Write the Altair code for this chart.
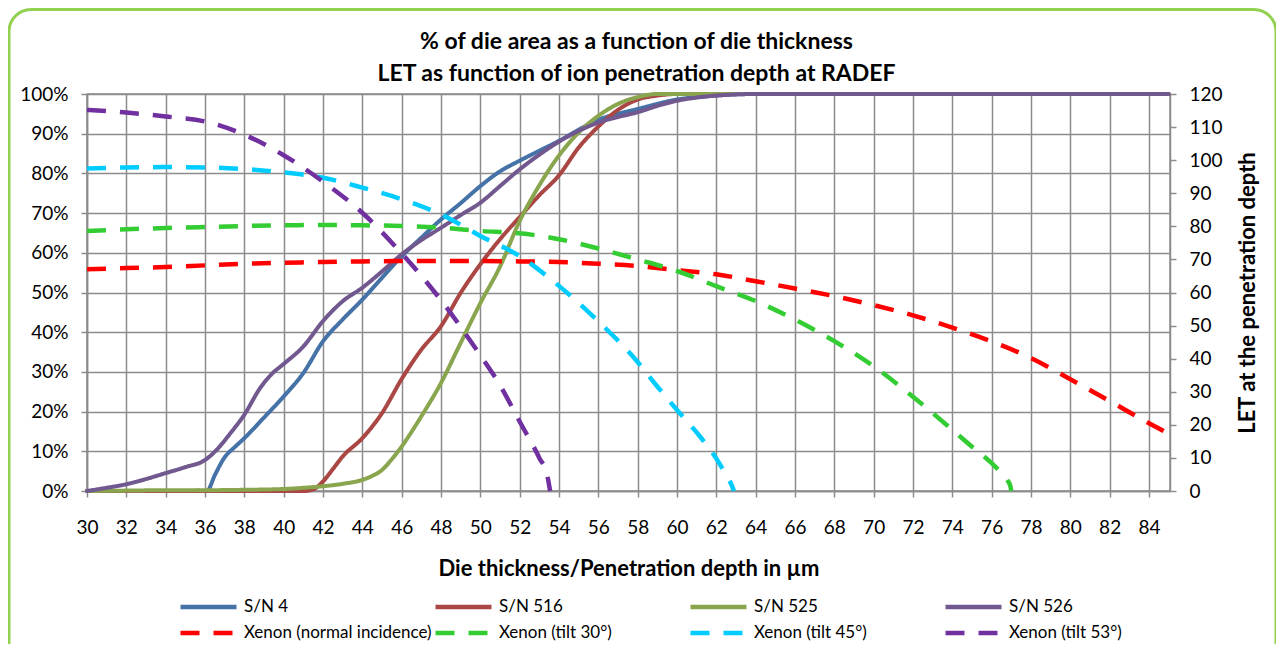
import altair as alt
import pandas as pd

FONT = "Lato"

# ---------------- data ----------------
series_names = ["S/N 4", "S/N 516", "S/N 525", "S/N 526",
                "Xenon (normal incidence)", "Xenon (tilt 30°)",
                "Xenon (tilt 45°)", "Xenon (tilt 53°)"]
series_colors = ["#4572A7", "#AA4643", "#89A54E", "#71588F",
                 "#FF0000", "#33CC33", "#00CCFF", "#7030A0"]

# % of die area (left axis)
sn4_x = [30, 32, 34, 36, 36.1, 36.5, 37, 37.5, 38, 39, 40, 41, 42, 43, 44, 45, 46, 47, 48, 49,
         50, 51, 52, 53, 54, 55, 56, 57, 58, 59, 60, 61, 62, 63, 64, 70, 85]
sn4_y = [0, 0, 0, 0, 0, 4, 8.5, 11, 13.3, 18.5, 23.8, 29.7, 37.7, 43.2, 48.2, 53.7, 59.1, 63.8, 68.4, 72.5,
         76.8, 80.5, 83.2, 85.7, 88.2, 91, 93.5, 95, 96.2, 97.5, 98.6, 99.2, 99.6, 99.9, 100, 100, 100]

sn516_x = [30, 34, 38, 41, 41.5, 42, 42.5, 43, 44, 45, 46, 47, 48, 49, 50, 51, 52, 53, 54, 55,
           56, 57, 58, 59, 60, 70, 85]
sn516_y = [0, 0, 0, 0, 0.4, 2.4, 5.5, 8.7, 13.3, 19.6, 28.2, 35.6, 41.5, 49.9, 57.1, 63.4, 69.0, 74.5, 79.5, 86.5,
           91.8, 96.0, 98.6, 99.6, 100, 100, 100]

sn525_x = [30, 32, 34, 36, 38, 40, 41, 42, 43, 44, 44.5, 45, 45.5, 46, 47, 48, 49, 50, 51, 52,
           53, 54, 55, 56, 57, 58, 59, 60, 70, 85]
sn525_y = [0, 0.1, 0.2, 0.2, 0.3, 0.5, 0.8, 1.2, 1.8, 2.8, 3.8, 5.3, 8.0, 11.2, 18.8, 27.2, 37.3, 47.3, 56.5, 68.0,
           77.0, 84.5, 90.3, 94.5, 97.5, 99.2, 100, 100, 100, 100]

sn526_x = [30, 31, 32, 33, 34, 35, 36, 36.6, 37.3, 38, 38.8, 39.4, 40, 41, 42, 43, 44, 45, 46, 47,
           48, 49, 50, 51, 52, 53, 54, 55, 56, 57, 58, 59, 60, 61, 62, 63, 64, 70, 85]
sn526_y = [0, 0.8, 1.7, 3.0, 4.5, 6.0, 7.8, 10.4, 14.6, 19.2, 25.9, 29.5, 32.0, 36.4, 42.8, 47.8, 51.2, 55.3, 59.6, 63.2,
           66.3, 69.5, 72.6, 76.8, 81.0, 84.7, 88.0, 90.7, 92.8, 94.2, 95.4, 97.0, 98.3, 99.1, 99.6, 99.9, 100, 100, 100]

# LET at the penetration depth (right axis)
xe0_x = [30, 32, 34, 36, 38, 40, 42, 44, 46, 48, 50, 52, 54, 56, 58, 60, 62, 64, 66, 68,
         70, 72, 74, 76, 78, 80, 82, 84, 85]
xe0_y = [67.0, 67.4, 67.7, 68.2, 68.7, 69.0, 69.2, 69.4, 69.5, 69.5, 69.5, 69.4, 69.2, 68.7, 68.0, 66.8, 65.5, 63.4, 61.2, 58.9,
         56.2, 53.1, 49.4, 45.2, 40.2, 33.8, 27.2, 20.5, 17.3]

xe30_x = [30, 32, 34, 36, 38, 40, 42, 44, 46, 48, 50, 52, 54, 56, 58, 60, 62, 64, 66, 68,
          70, 72, 74, 75, 76, 76.5, 76.8, 76.95, 77]
xe30_y = [78.6, 79.1, 79.5, 79.8, 80.1, 80.3, 80.4, 80.3, 80.1, 79.6, 78.6, 77.9, 76.1, 73.3, 70.0, 66.5, 61.9, 57.4, 51.8, 45.3,
          37.7, 28.5, 18.5, 13.4, 8.4, 5.4, 3.3, 1.5, 0]

xe45_x = [30, 32, 34, 36, 38, 40, 42, 44, 46, 48, 50, 52, 54, 56, 58, 59, 60, 61, 62, 62.5, 62.8, 62.9]
xe45_y = [97.5, 97.8, 97.9, 97.8, 97.3, 96.3, 94.7, 91.7, 88.2, 83.6, 77.1, 71.0, 62.0, 51.3, 39.0, 31.6, 24.5, 17.7, 9.8, 4.8, 1.5, 0]

xe53_x = [30, 32, 34, 36, 38, 40, 42, 44, 46, 48, 50, 51, 52, 53, 53.4, 53.55]
xe53_y = [115.2, 114.4, 113.2, 111.7, 107.7, 101.5, 93.5, 84.1, 71.8, 57.7, 41.0, 32.0, 21.0, 10.0, 4.8, 0]

x_ticks = list(range(30, 86, 2))
pct_ticks = list(range(0, 101, 10))
let_ticks = list(range(0, 121, 10))

# ---------------- tables ----------------
die_rows = []
for name, xs, ys in [("S/N 4", sn4_x, sn4_y), ("S/N 516", sn516_x, sn516_y),
                     ("S/N 525", sn525_x, sn525_y), ("S/N 526", sn526_x, sn526_y)]:
    for x, y in zip(xs, ys):
        die_rows.append({"series": name, "x": x, "pct": y})
die_df = pd.DataFrame(die_rows)

let_rows = []
for name, xs, ys in [("Xenon (normal incidence)", xe0_x, xe0_y), ("Xenon (tilt 30°)", xe30_x, xe30_y),
                     ("Xenon (tilt 45°)", xe45_x, xe45_y), ("Xenon (tilt 53°)", xe53_x, xe53_y)]:
    for x, y in zip(xs, ys):
        let_rows.append({"series": name, "x": x, "let": y})
let_df = pd.DataFrame(let_rows)

dash_range = [[1, 0]] * 4 + [[19, 14]] * 4

GRID = "#8C8C8C"
x_scale = alt.Scale(domain=[30, 85.07], nice=False, zero=False)
color_enc = alt.Color("series:N", scale=alt.Scale(domain=series_names, range=series_colors),
                      legend=alt.Legend(title=None))
dash_enc = alt.StrokeDash("series:N", scale=alt.Scale(domain=series_names, range=dash_range),
                          legend=alt.Legend(title=None))

die_chart = alt.Chart(die_df).mark_line(strokeWidth=4, interpolate="monotone", strokeCap="round").encode(
    x=alt.X("x:Q", scale=x_scale,
            axis=alt.Axis(values=x_ticks, grid=True, title="Die thickness/Penetration depth in µm",
                          labelPadding=21, titlePadding=21, tickSize=6, labelFlush=False)),
    y=alt.Y("pct:Q", scale=alt.Scale(domain=[0, 100], nice=False),
            axis=alt.Axis(values=pct_ticks, grid=True, title=None, labelExpr="datum.value + '%'",
                          labelPadding=13, tickSize=6, labelFlush=False)),
    color=color_enc,
    strokeDash=dash_enc,
)

let_chart = alt.Chart(let_df).mark_line(strokeWidth=4.5, interpolate="monotone").encode(
    x=alt.X("x:Q", scale=x_scale),
    y=alt.Y("let:Q", scale=alt.Scale(domain=[0, 120], nice=False),
            axis=alt.Axis(orient="right", values=let_ticks, grid=False, title="LET at the penetration depth",
                          labelPadding=13, tickSize=6, titleAngle=270, titlePadding=37, labelFlush=False)),
    color=color_enc,
    strokeDash=dash_enc,
)

frame = alt.Chart(pd.DataFrame({"k": [0]})).mark_rect(
    fillOpacity=0, stroke="#92D050", strokeWidth=3, cornerRadius=22
).encode(
    x=alt.value(-78), x2=alt.value(1189), y=alt.value(-84.5), y2=alt.value(580)
)

chart = alt.layer(frame, die_chart, let_chart).resolve_scale(y="independent").properties(
    width=1083, height=397,
    padding={"left": 79, "top": 86, "right": 106, "bottom": 153},
    autosize=alt.AutoSizeParams(type="none"),
    title=alt.Title(text=["% of die area as a function of die thickness",
                          "LET as function of ion penetration depth at RADEF"],
                    font=FONT, fontSize=23, fontWeight="bold", color="#000000",
                    lineHeight=32, anchor="middle", baseline="bottom", offset=-101, dx=8),
).configure(
    background="white",
).configure_view(
    stroke=GRID, strokeWidth=1.5,
).configure_axis(
    labelFont=FONT, labelFontSize=19, labelColor="#000000",
    titleFont=FONT, titleFontSize=22, titleFontWeight="bold", titleColor="#000000",
    domainColor=GRID, domainWidth=1.5, tickColor=GRID, tickWidth=1.5,
    gridColor=GRID, gridWidth=1.5, gridOpacity=1,
).configure_legend(
    orient="none", legendX=91, legendY=503, columns=4, direction="horizontal", gridAlign="all",
    columnPadding=1, rowPadding=6, clipHeight=20, labelLimit=400,
    symbolType="stroke", symbolSize=3136, symbolStrokeWidth=4.5,
    labelFont=FONT, labelFontSize=17, labelColor="#000000", labelOffset=5,
)

chart.save("out.html", embed_options={"renderer": "svg", "actions": False})
